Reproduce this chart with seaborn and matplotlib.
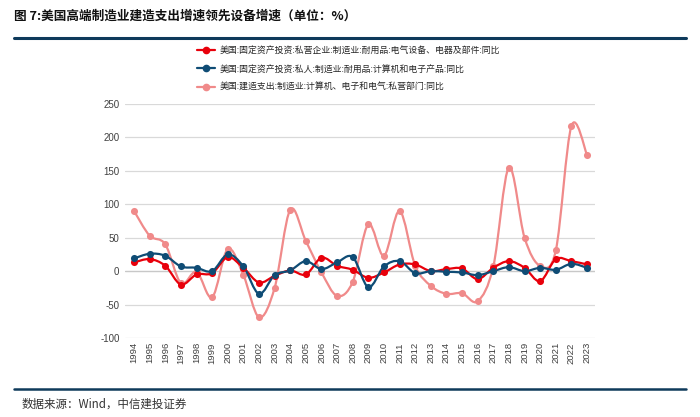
import numpy as np
import pandas as pd
import matplotlib
matplotlib.use("Agg")
import matplotlib.pyplot as plt
import seaborn as sns
from matplotlib.path import Path
from matplotlib.patches import PathPatch
from matplotlib.lines import Line2D

years = list(range(1994, 2024))
red_vals = [13, 18, 8, -20, -5, -3, 21, 5, -17, -7, 1, -5, 20, 8, 2, -10, -2, 10,
            10, 0, 3, 4, -12, 5, 15, 5, -15, 18, 15, 10]
blue_vals = [19, 26, 23, 7, 5, 0, 25, 7, -34, -6, 1, 15, 3, 13, 21, -24, 7, 15,
             -3, 0, -1, -2, -6, 0, 6, 0, 5, 2, 11, 5]
pink_vals = [90, 53, 40, -18, -1, -39, 33, -6, -69, -25, 92, 45, -2, -37, -16, 70, 23, 90,
             8, -22, -34, -33, -45, 7, 155, 50, 8, 31, 217, 174]
labels = ["美国:固定资产投资:私营企业:制造业:耐用品:电气设备、电器及部件:同比",
          "美国:固定资产投资:私人:制造业:耐用品:计算机和电子产品:同比",
          "美国:建造支出:制造业:计算机、电子和电气:私营部门:同比"]
colors = ["#E8000B", "#0F4C75", "#F08A8A"]
title = "图 7:美国高端制造业建造支出增速领先设备增速（单位：%）"
source = "数据来源：Wind，中信建投证券"

sns.set_theme(style="white")
plt.rcParams['font.family'] = ['Noto Sans CJK SC', 'DejaVu Sans']
plt.rcParams['axes.unicode_minus'] = False

fig = plt.figure(figsize=(7, 4.17), dpi=100)
ax = fig.add_axes([125/700, 1-338/417, 470/700, 234/417])

def smooth_path(xs, ys):
    xs = np.asarray(xs, float); ys = np.asarray(ys, float)
    n = len(xs)
    verts = [(xs[0], ys[0])]
    codes = [Path.MOVETO]
    for i in range(n-1):
        x0, y0 = (xs[i-1], ys[i-1]) if i > 0 else (xs[i], ys[i])
        x3, y3 = (xs[i+2], ys[i+2]) if i+2 < n else (xs[i+1], ys[i+1])
        c1 = (xs[i] + (xs[i+1]-x0)/6, ys[i] + (ys[i+1]-y0)/6)
        c2 = (xs[i+1] - (x3-xs[i])/6, ys[i+1] - (y3-ys[i])/6)
        verts += [c1, c2, (xs[i+1], ys[i+1])]
        codes += [Path.CURVE4]*3
    return Path(verts, codes)

for idx in [2, 0, 1]:
    vals = [red_vals, blue_vals, pink_vals][idx]
    c = colors[idx]
    ax.add_patch(PathPatch(smooth_path(years, vals), facecolor="none", edgecolor=c,
                           lw=1.6, zorder=3 + (idx != 2)))
    df = pd.DataFrame({"year": years, "v": vals})
    sns.scatterplot(data=df, x="year", y="v", ax=ax, color=c, s=26, edgecolor=c,
                    linewidth=0, zorder=4 + (idx != 2), legend=False)

ax.set_xlim(1993.42, 2023.51)
ax.set_ylim(-100, 250)
ax.set_yticks(range(-100, 251, 50))
ax.set_xticks(years)
ax.set_xticklabels([str(y) for y in years], rotation=90, fontsize=6.8, color="#404040",
                   family=['Liberation Sans'])
ax.tick_params(axis='y', labelsize=7, labelcolor="#404040", length=0, pad=4)
ax.tick_params(axis='x', length=0, pad=3)
for lab in ax.get_yticklabels():
    lab.set_family(['Liberation Sans'])
ax.grid(axis='y', color="#D9D9D9", lw=0.9)
ax.grid(axis='x', visible=False)
ax.axhline(0, color="#C8C8C8", lw=0.9, zorder=1)
for s in ax.spines.values():
    s.set_visible(False)
ax.set_xlabel(""); ax.set_ylabel("")

handles = [Line2D([], [], color=colors[i], lw=1.6, marker='o', markersize=4.5) for i in range(3)]
fig.legend(handles, labels, loc='upper left', bbox_to_anchor=(197/700, 1-46/417),
           frameon=False, fontsize=6.4, labelspacing=1.05, handlelength=2.0,
           handletextpad=0.5, borderaxespad=0, borderpad=0)

fig.text(14/700, 1-16/417, title, fontsize=9.1, fontweight='bold', va='center', ha='left',
         color="#111111")
fig.add_artist(Line2D([14/700, 686/700], [1-38/417, 1-38/417], color="#0E3A5B", lw=2.2))
fig.add_artist(Line2D([14/700, 686/700], [1-389/417, 1-389/417], color="#0E3A5B", lw=1.8))
fig.text(22/700, 1-404/417, source, fontsize=8.3, va='center', ha='left', color="#333333",
         style='italic')

fig.savefig("out.png", dpi=100)
